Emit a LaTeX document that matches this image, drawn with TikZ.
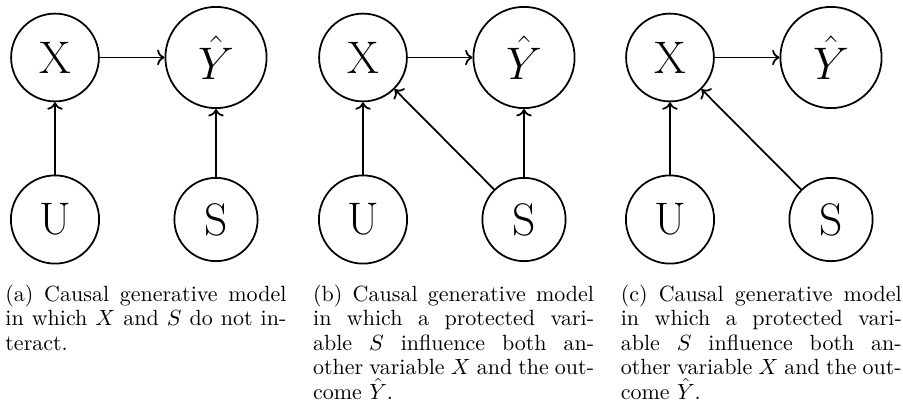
\documentclass[tikz,border=0pt]{standalone}
\usetikzlibrary{arrows.meta}
\tikzset{
  var/.style={draw, circle, thick, inner sep=7pt, font=\huge},
  outcome/.style={var, minimum size=46pt},
  edge/.style={->, thick},
  capt/.style={anchor=base west, inner sep=0pt, text width=127.7pt, align=justify,
    font=\fontsize{10}{11.14}\selectfont}
}
\begin{document}
\begin{tikzpicture}[x=0.4545pt, y=-0.4545pt]
	\useasboundingbox (0,0) rectangle (903,406);
	% (a) X and S apart
	\node[var] (Xa) at (55,57.5)          {X};
	\node[outcome] (Ya) at (216,57.5)     {$\hat{Y}$};
	\node[var] (Ua) at (55,219.5)         {U};
	\node[var] (Sa) at (216,219.5)        {S};
	\draw[edge] (Xa) -- (Ya);
	\draw[edge] (Ua) -- (Xa);
	\draw[edge] (Sa) -- (Ya);
	\node[capt] (capa) at (5,301) {(a) Causal generative model\linebreak
		in which $X$ and $S$ do not in-\linebreak teract.};
	% (b) S acts on X and on Y
	\node[var] (Xb) at (363,57.5)         {X};
	\node[outcome] (Yb) at (524,57.5)     {$\hat{Y}$};
	\node[var] (Ub) at (363,219.5)        {U};
	\node[var] (Sb) at (524,219.5)        {S};
	\draw[edge] (Xb) -- (Yb);
	\draw[edge] (Ub) -- (Xb);
	\draw[edge] (Sb) -- (Yb);
	\draw[edge] (Sb) -- (Xb);
	\node[capt] (capb) at (312.7,301) {(b) Causal generative model\linebreak
		in which a protected vari-\linebreak able $S$ influence both an-\linebreak
		other variable $X$ and the out-\linebreak come $\hat{Y}$.};
	% (c) S acts on X only
	\node[var] (Xc) at (670,57.5)         {X};
	\node[outcome] (Yc) at (831,57.5)     {$\hat{Y}$};
	\node[var] (Uc) at (670,219.5)        {U};
	\node[var] (Sc) at (831,219.5)        {S};
	\draw[edge] (Xc) -- (Yc);
	\draw[edge] (Uc) -- (Xc);
	\draw[edge] (Sc) -- (Xc);
	\node[capt] (capc) at (620.4,301) {(c) Causal generative model\linebreak
		in which a protected vari-\linebreak able $S$ influence both an-\linebreak
		other variable $X$ and the out-\linebreak come $\hat{Y}$.};
\end{tikzpicture}
\end{document}
